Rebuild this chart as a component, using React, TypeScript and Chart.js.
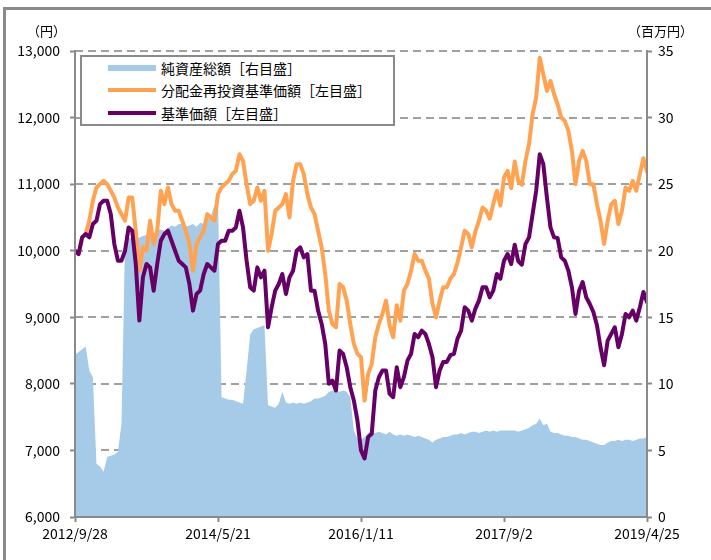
import React, { useEffect, useRef } from "react";
import { Chart, registerables } from "chart.js";

Chart.register(...registerables);

// ---- data ----
const xTickLabels = ["2012/9/28", "2014/5/21", "2016/1/11", "2017/9/2", "2019/4/25"];
const xTickDays = [0, 600, 1200, 1800, 2400]; // day offsets of the labelled dates
const sampleStepDays = 15; // spacing of the samples below (days)

// 基準価額 [left axis, 円]
const navValues = [
  10000, 9950, 10200, 10250, 10200, 10400, 10450, 10700, 10750, 10750,
  10550, 10100, 9850, 9850, 10000, 10350, 10300, 9800, 8950, 9600,
  9800, 9750, 9400, 9800, 10150, 10250, 10300, 10150, 10000, 9850,
  9800, 9750, 9500, 9100, 9350, 9400, 9650, 9800, 9750, 9700,
  10100, 10150, 10150, 10300, 10300, 10350, 10600, 10350, 9850, 9450,
  9400, 9750, 9600, 9700, 8850, 9150, 9400, 9500, 9650, 9350,
  9600, 9700, 10000, 10050, 9900, 9950, 9400, 9400, 9100, 8900,
  8600, 8000, 8050, 7900, 8500, 8450, 8250, 7950, 7750, 7450,
  7000, 6880, 7200, 7250, 7900, 8100, 8200, 8200, 7850, 7800,
  8250, 7950, 8100, 8350, 8450, 8750, 8700, 8800, 8750, 8600,
  8400, 7950, 8200, 8330, 8330, 8430, 8450, 8680, 8800, 9150,
  9100, 8950, 9130, 9250, 9450, 9450, 9300, 9400, 9650, 9580,
  9850, 9950, 9800, 10090, 9840, 9790, 10100, 10200, 10550, 10900,
  11450, 11300, 10800, 10350, 10200, 10190, 9900, 9850, 9700, 9450,
  9050, 9400, 9530, 9300, 9200, 9080, 8880, 8550, 8280, 8650,
  8750, 8850, 8550, 8750, 9050, 9000, 9100, 8950, 9150, 9380, 9230,
];

// 分配金再投資基準価額 [left axis, 円]
const reinvestedValues = [
  10000, 9950, 10200, 10250, 10450, 10750, 10950, 11000, 11050, 11000,
  10900, 10800, 10650, 10550, 10450, 10800, 10800, 10300, 9700, 10050,
  10000, 10450, 10100, 10300, 10900, 10700, 10950, 10700, 10600, 10600,
  10450, 10300, 10100, 9700, 10100, 10200, 10300, 10550, 10500, 10450,
  10850, 10950, 11000, 11050, 11150, 11200, 11450, 11350, 11000, 10700,
  10750, 10950, 10750, 10900, 10000, 10250, 10600, 10650, 10700, 10850,
  10500, 11050, 11300, 11300, 11150, 10850, 10650, 10550, 10300, 10050,
  9650, 9100, 8900, 8850, 9500, 9450, 9250, 8900, 8600, 8450,
  8400, 7750, 8150, 8300, 8700, 8900, 9050, 9250, 8880, 8700,
  9180, 8950, 9400, 9500, 9700, 9950, 9850, 9850, 9700, 9580,
  9200, 9000, 9250, 9450, 9450, 9580, 9650, 9820, 10050, 10300,
  10250, 10050, 10290, 10450, 10650, 10600, 10480, 10700, 10900, 10680,
  11100, 11200, 10940, 11340, 11040, 10990, 11350, 11600, 12050, 12300,
  12900, 12650, 12400, 12550, 12350, 12200, 12000, 11950, 11800, 11500,
  11000, 11350, 11500, 11350, 11000, 11000, 10700, 10450, 10100, 10450,
  10700, 10750, 10400, 10600, 10950, 10900, 11050, 10900, 11150, 11390, 11190,
];

// 純資産総額 [right axis, 百万円]
const netAssetValues = [
  12.2, 12.4, 12.6, 12.8, 11.0, 10.5, 4.0, 3.8, 3.4, 4.5,
  4.6, 4.7, 4.9, 7.0, 20.8, 21.0, 20.9, 20.8, 21.0, 21.1,
  21.2, 21.4, 21.3, 21.5, 21.6, 21.5, 21.7, 21.9, 21.8, 22.0,
  22.0, 21.8, 21.9, 22.0, 21.8, 22.1, 22.0, 22.3, 22.6, 23.4,
  24.0, 9.0, 8.9, 8.8, 8.8, 8.7, 8.6, 8.5, 11.0, 13.7,
  14.1, 14.2, 14.3, 14.4, 8.4, 8.3, 8.2, 8.5, 9.4, 8.6,
  8.5, 8.6, 8.5, 8.6, 8.5, 8.6, 8.7, 8.9, 8.9, 9.0,
  9.1, 9.4, 9.5, 9.5, 9.4, 9.5, 9.4, 9.0, 6.5, 5.9,
  5.8, 6.0, 6.3, 6.4, 6.3, 6.4, 6.3, 6.2, 6.4, 6.2,
  6.1, 6.2, 6.1, 6.2, 6.1, 6.0, 6.1, 6.0, 5.9, 5.8,
  5.6, 5.8, 5.9, 6.0, 6.0, 6.1, 6.2, 6.2, 6.3, 6.2,
  6.3, 6.4, 6.4, 6.3, 6.4, 6.5, 6.4, 6.5, 6.4, 6.5,
  6.5, 6.5, 6.5, 6.5, 6.4, 6.5, 6.6, 6.7, 6.9, 7.0,
  7.4, 6.9, 7.0, 6.4, 6.3, 6.3, 6.2, 6.1, 6.1, 6.0,
  6.0, 5.9, 5.8, 5.8, 5.7, 5.6, 5.5, 5.4, 5.4, 5.6,
  5.7, 5.7, 5.8, 5.7, 5.8, 5.8, 5.7, 5.8, 5.9, 5.9, 6.0,
];

const legendLabels = ["純資産総額［右目盛］", "分配金再投資基準価額［左目盛］", "基準価額［左目盛］"];
const leftUnit = "（円）";
const rightUnit = "（百万円）";

// ---- styles ----
const BLUE = "#A6CBE9";
const ORANGE = "#FFA352";
const PURPLE = "#660066";
const AXIS = "#8A8A8A";
const GRID = "#A0A0A0";
const FONT = '"Noto Sans CJK JP", "Noto Sans", sans-serif';

// draws the dashed horizontal guide lines under the datasets
const dashedGridPlugin = {
  id: "dashedGrid",
  beforeDatasetsDraw(chart: any) {
    const { ctx, chartArea, scales } = chart;
    const y = scales.y;
    ctx.save();
    ctx.strokeStyle = GRID;
    ctx.lineWidth = 2;
    ctx.setLineDash([8, 5]);
    y.ticks.forEach((t: any) => {
      if (t.value <= y.min) return;
      const py = Math.round(y.getPixelForValue(t.value));
      ctx.beginPath();
      ctx.moveTo(chartArea.left, py);
      ctx.lineTo(chartArea.right, py);
      ctx.stroke();
    });
    ctx.restore();
  },
};

export default function App() {
  const canvasRef = useRef<HTMLCanvasElement>(null);

  useEffect(() => {
    const canvas = canvasRef.current;
    if (!canvas) return;
    const pts = (arr: number[]) => arr.map((v, i) => ({ x: i * sampleStepDays, y: v }));
    const tickFont = { family: FONT, size: 14 };
    const chart = new Chart(canvas, {
      type: "line",
      data: {
        datasets: [
          {
            label: legendLabels[2],
            data: pts(navValues),
            yAxisID: "y",
            borderColor: PURPLE,
            borderWidth: 4,
            pointRadius: 0,
            fill: false,
            borderJoinStyle: "round",
            borderCapStyle: "round",
            order: 0,
          },
          {
            label: legendLabels[1],
            data: pts(reinvestedValues),
            yAxisID: "y",
            borderColor: ORANGE,
            borderWidth: 4,
            pointRadius: 0,
            fill: false,
            borderJoinStyle: "round",
            borderCapStyle: "round",
            order: 1,
          },
          {
            label: legendLabels[0],
            data: pts(netAssetValues),
            yAxisID: "y1",
            borderColor: BLUE,
            backgroundColor: BLUE,
            borderWidth: 0,
            pointRadius: 0,
            fill: "origin",
            order: 2,
          },
        ],
      },
      options: {
        responsive: false,
        animation: false,
        events: [],
        layout: { padding: { top: 51, left: 0, right: 0, bottom: 0 } },
        plugins: { legend: { display: false }, tooltip: { enabled: false } },
        scales: {
          x: {
            type: "linear",
            min: xTickDays[0],
            max: xTickDays[xTickDays.length - 1],
            afterFit: (s: any) => {
              s.height = 43;
            },
            afterBuildTicks: (s: any) => {
              s.ticks = xTickDays.map((d) => ({ value: d }));
            },
            ticks: {
              autoSkip: false,
              maxRotation: 0,
              padding: 3,
              color: "#000",
              font: tickFont,
              callback: (v: any) => {
                const idx = xTickDays.indexOf(Number(v));
                return idx >= 0 ? xTickLabels[idx] : "";
              },
            },
            grid: { drawOnChartArea: false, drawTicks: true, tickLength: 5, tickColor: AXIS, tickWidth: 2 },
            border: { color: AXIS, width: 2, z: 1 },
          },
          y: {
            position: "left",
            min: 6000,
            max: 13000,
            afterFit: (s: any) => {
              s.width = 75;
            },
            ticks: {
              stepSize: 1000,
              padding: 10,
              color: "#000",
              font: tickFont,
              callback: (v: any) => Number(v).toLocaleString("en-US"),
            },
            grid: { drawOnChartArea: false, drawTicks: true, tickLength: 5, tickColor: AXIS, tickWidth: 2 },
            border: { color: AXIS, width: 2, z: 1 },
          },
          y1: {
            position: "right",
            min: 0,
            max: 35,
            afterFit: (s: any) => {
              s.width = 64;
            },
            ticks: { stepSize: 5, padding: 6, color: "#000", font: tickFont },
            grid: { drawOnChartArea: false, drawTicks: true, tickLength: 5, tickColor: AXIS, tickWidth: 2 },
            border: { color: AXIS, width: 2, z: 1 },
          },
        },
      } as any,
      plugins: [dashedGridPlugin],
    });
    return () => chart.destroy();
  }, []);

  const swatches = [
    { color: BLUE, h: 6 },
    { color: ORANGE, h: 4 },
    { color: PURPLE, h: 4 },
  ];
  const rowCenters = [11, 33, 56];

  return (
    <div style={{ position: "absolute", left: 0, top: 0, width: 711, height: 560, background: "#fff", overflow: "hidden", fontFamily: FONT }}>
      <div
        style={{
          position: "absolute",
          left: 3,
          top: 7,
          width: 720,
          height: 600,
          borderLeft: `3px solid ${AXIS}`,
          borderTop: `3px solid ${AXIS}`,
        }}
      />
      <canvas ref={canvasRef} width={711} height={560} style={{ position: "absolute", left: 0, top: 0 }} />
      <div style={{ position: "absolute", left: 27, top: 22, fontSize: 13, lineHeight: "18px", color: "#000", whiteSpace: "nowrap" }}>
        {leftUnit}
      </div>
      <div style={{ position: "absolute", left: 628, top: 22, fontSize: 13, lineHeight: "18px", color: "#000", whiteSpace: "nowrap" }}>
        {rightUnit}
      </div>
      <div
        style={{
          position: "absolute",
          left: 80,
          top: 55,
          width: 315,
          height: 71,
          boxSizing: "border-box",
          border: `2px solid ${AXIS}`,
          background: "#fff",
        }}
      >
        {legendLabels.map((label, i) => (
          <React.Fragment key={label}>
            <div
              style={{
                position: "absolute",
                left: 26,
                top: rowCenters[i] - swatches[i].h / 2,
                width: 48,
                height: swatches[i].h,
                background: swatches[i].color,
              }}
            />
            <div
              style={{
                position: "absolute",
                left: 79,
                top: rowCenters[i] - 10,
                height: 20,
                lineHeight: "20px",
                fontSize: 14,
                color: "#000",
                whiteSpace: "nowrap",
              }}
            >
              {label}
            </div>
          </React.Fragment>
        ))}
      </div>
    </div>
  );
}
